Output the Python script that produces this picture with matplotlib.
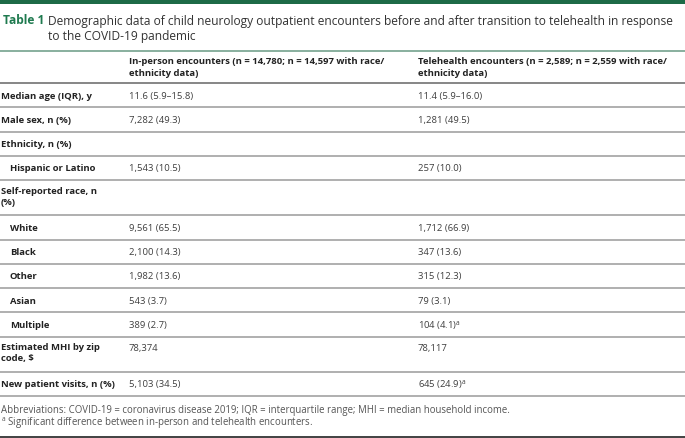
import matplotlib
matplotlib.use("Agg")
import matplotlib.pyplot as plt

# ---- data ----
title_label = "Table 1"
title_lines = [
    "Demographic data of child neurology outpatient encounters before and after transition to telehealth in response",
    "to the COVID-19 pandemic",
]
header_col2 = ["In-person encounters (n = 14,780; n = 14,597 with race/", "ethnicity data)"]
header_col3 = ["Telehealth encounters (n = 2,589; n = 2,559 with race/", "ethnicity data)"]

row_labels = [
    ["Median age (IQR), y"],
    ["Male sex, n (%)"],
    ["Ethnicity, n (%)"],
    ["Hispanic or Latino"],
    ["Self-reported race, n", "(%)"],
    ["White"],
    ["Black"],
    ["Other"],
    ["Asian"],
    ["Multiple"],
    ["Estimated MHI by zip", "code, $"],
    ["New patient visits, n (%)"],
]
row_indent = [False, False, False, True, False, True, True, True, True, True, False, False]
inperson_values = ["11.6 (5.9\u201315.8)", "7,282 (49.3)", "", "1,543 (10.5)", "", "9,561 (65.5)",
                   "2,100 (14.3)", "1,982 (13.6)", "543 (3.7)", "389 (2.7)", "78,374", "5,103 (34.5)"]
telehealth_values = ["11.4 (5.9\u201316.0)", "1,281 (49.5)", "", "257 (10.0)", "", "1,712 (66.9)",
                     "347 (13.6)", "315 (12.3)", "79 (3.1)", "104 (4.1)", "78,117", "645 (24.9)"]
telehealth_sig = [False, False, False, False, False, False, False, False, False, True, False, True]
footnotes = [
    "Abbreviations: COVID-19 = coronavirus disease 2019; IQR = interquartile range; MHI = median household income.",
    "Significant difference between in-person and telehealth encounters.",
]

# ---- style ----
FONT = "Open Sans"
GREEN = "#1d6b47"
TXT = "#3f3f3f"
BOLD = "#222222"
BODY_PT = 6.8
LABEL_PT = 6.8
TITLE_PT = 8.68
FOOT_PT = 6.9

W, H = 685, 438
fig = plt.figure(figsize=(W / 100, H / 100), dpi=100)
ax = fig.add_axes([0, 0, 1, 1])
ax.set_xlim(0, W)
ax.set_ylim(H, 0)
ax.axis("off")

def txt(x, y, s, size=BODY_PT, weight="normal", color=TXT, **kw):
    ax.text(x, y, s, fontsize=size, fontweight=weight, color=color, family=FONT,
            va="center", ha="left", **kw)

def hline(y, color, lw):
    ax.plot([0, W], [y, y], color=color, lw=lw, solid_capstyle="butt")

# top green band
ax.add_patch(plt.Rectangle((0, 0), W, 3.5, color=GREEN, lw=0))

# title
txt(3, 21, title_label, size=TITLE_PT, weight="bold", color="#1f7a4f")
for i, line in enumerate(title_lines):
    txt(48, 21 + i * 15.5, line, size=TITLE_PT, color="#333333")

hline(51, "#7fa996", 1.3)

# header
X1, X1i, X2, X3 = 1, 10, 129, 418
for i, (a, b) in enumerate(zip(header_col2, header_col3)):
    txt(X2, 62 + i * 11.5, a, size=LABEL_PT, weight="bold", color=BOLD)
    txt(X3, 62 + i * 11.5, b, size=LABEL_PT, weight="bold", color=BOLD)
hline(83, "#666666", 1.1)

# body rows
SINGLE, DOUBLE = 24.25, 35.25
top = 83
for lab, ind, v2, v3, sig in zip(row_labels, row_indent, inperson_values, telehealth_values, telehealth_sig):
    h = SINGLE if len(lab) == 1 else DOUBLE
    y0 = top + (13.2 if len(lab) == 1 else 11.5)
    for j, part in enumerate(lab):
        txt(X1i if ind else X1, y0 + j * 11, part, size=LABEL_PT, weight="bold", color=BOLD)
    txt(X2, y0, v2)
    if sig:
        v3 = v3 + r"$^{\mathregular{a}}$"
    txt(X3, y0, v3)
    top += h
    hline(top, "#9a9a9a", 1.1)

# footnotes
txt(1, 411, footnotes[0], size=FOOT_PT, color="#555555")
txt(1, 423, r"$^{\mathregular{a}}$ " + footnotes[1], size=FOOT_PT, color="#555555")
hline(436.5, "#333333", 1.3)

fig.savefig("out.png", dpi=100)
